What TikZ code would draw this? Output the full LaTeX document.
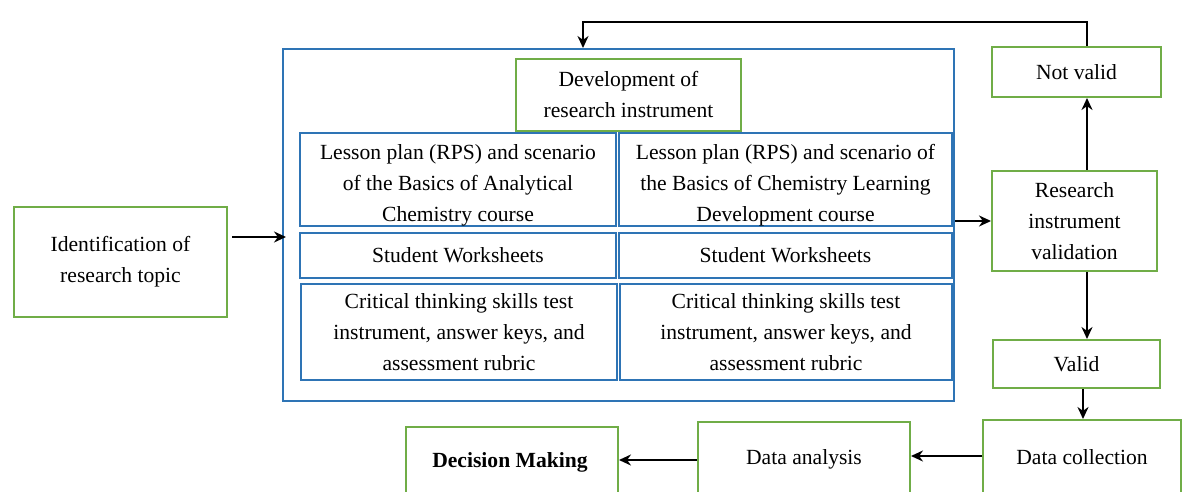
\documentclass[tikz,border=0pt]{standalone}
\usepackage{fontspec}
\setmainfont{Liberation Serif}
\usetikzlibrary{arrows.meta,fit}
\definecolor{boxgreen}{HTML}{70AD47}
\definecolor{boxblue}{HTML}{2E74B5}
\tikzset{
  gbox/.style={draw=boxgreen, line width=1pt, inner sep=0pt},
  bbox/.style={draw=boxblue, line width=1.2pt, inner sep=0pt},
  outer/.style={draw=boxblue, line width=1pt, inner sep=0pt},
  txt/.style={align=center, inner sep=0pt, font=\fontsize{10.8}{15.5}\selectfont},
  arr/.style={draw=black, line width=1.1pt, -{Stealth[length=6pt,width=5.5pt]}},
}
\begin{document}
\begin{tikzpicture}[x=0.5pt,y=-0.5pt]
\useasboundingbox (0,0) rectangle (1184,492);
\clip (0,0) rectangle (1184,492);
\fill[white] (0,0) rectangle (1184,492);

% outer frame around the instrument development block
\node[outer, fit={(283,49) (954,401)}] (big) {};

% left start box
\node[gbox, fit={(14,207) (227,317)}] (ident) {};
\node[txt] (identtxt) at (ident) {Identification of\\research topic};

% instrument development block
\node[gbox, fit={(516,59) (741,131)}] (dev) {};
\node[txt] (devtxt) at (dev) {Development of\\research instrument};
\node[bbox, fit={(300,133) (616,226)}] (r1l) {};
\node[txt] (r1ltxt) at ([yshift=-3]r1l.center) {Lesson plan (RPS) and scenario\\of the Basics of Analytical\\Chemistry course};
\node[bbox, fit={(619,133) (952,226)}] (r1r) {};
\node[txt] (r1rtxt) at ([yshift=-3]r1r.center) {Lesson plan (RPS) and scenario of\\the Basics of Chemistry Learning\\Development course};
\node[bbox, fit={(300,233) (616,278)}] (r2l) {};
\node[txt] (r2ltxt) at (r2l) {Student Worksheets};
\node[bbox, fit={(619,233) (952,278)}] (r2r) {};
\node[txt] (r2rtxt) at (r2r) {Student Worksheets};
\node[bbox, fit={(301,284) (617,380)}] (r3l) {};
\node[txt] (r3ltxt) at (r3l) {Critical thinking skills test\\instrument, answer keys, and\\assessment rubric};
\node[bbox, fit={(620,284) (952,380)}] (r3r) {};
\node[txt] (r3rtxt) at (r3r) {Critical thinking skills test\\instrument, answer keys, and\\assessment rubric};

% validation column
\node[gbox, fit={(992,47) (1161,97)}] (notvalid) {};
\node[txt] (notvalidtxt) at (notvalid) {Not valid};
\node[gbox, fit={(992,171) (1157,271)}] (val) {};
\node[txt] (valtxt) at (val) {Research\\instrument\\validation};
\node[gbox, fit={(993,340) (1160,388)}] (valid) {};
\node[txt] (validtxt) at (valid) {Valid};

% bottom row (boxes run past the lower edge)
\node[gbox, fit={(983,420) (1181,505)}] (coll) {};
\node[txt] (colltxt) at (1082,457) {Data collection};
\node[gbox, fit={(698,422) (910,505)}] (anal) {};
\node[txt] (analtxt) at (804,459) {Data analysis};
\node[gbox, fit={(406,427) (618,505)}] (dec) {};
\node[txt, font=\fontsize{10.8}{15.5}\selectfont\bfseries] (dectxt) at (510,462) {Decision Making};

% connectors
\coordinate (colx) at (1087,0);
\coordinate (bend) at (583,22);
\draw[arr] ([shift={(4,-25)}]ident.east) -- ([shift={(4,-25)}]ident.east -| big.west);
\draw[arr] (big.east |- val.west) -- (val.west);
\draw[arr] (val.north -| colx) -- (notvalid.south -| colx);
\draw[arr] (notvalid.north -| colx) |- (bend) -- (bend |- big.north);
\draw[arr] (val.south -| colx) -- (valid.north -| colx);
\draw[arr] ([xshift=-2]valid.south -| colx) -- ([xshift=-2]coll.north -| colx);
\draw[arr] (coll.west |- 0,456) -- (anal.east |- 0,456);
\draw[arr] (anal.west |- 0,460) -- (dec.east |- 0,460);
\end{tikzpicture}
\end{document}
